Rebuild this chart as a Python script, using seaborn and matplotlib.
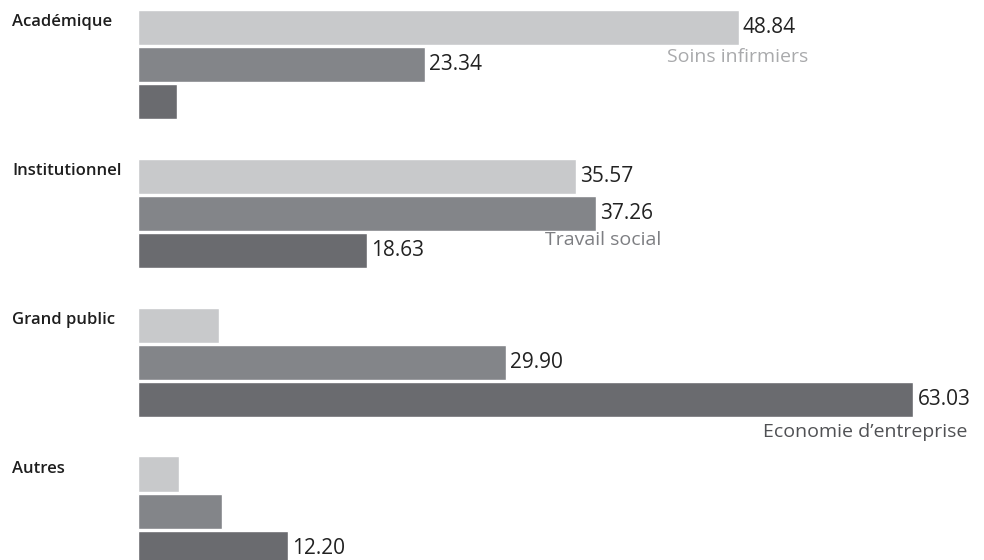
import pandas as pd
import numpy as np
import matplotlib.pyplot as plt
import seaborn as sns

# données
categories = ['Académique', 'Institutionnel', 'Grand public', 'Autres']
series = ['Soins infirmiers', 'Travail social', 'Economie d\u2019entreprise']
soins = [48.84, 35.57, 6.6, 3.3]
travail = [23.34, 37.26, 29.90, 6.8]
economie = [3.2, 18.63, 63.03, 12.20]
# étiquettes affichées (vide = pas d'étiquette)
labels = {
    'Soins infirmiers': ['48.84', '35.57', '', ''],
    'Travail social': ['23.34', '37.26', '29.90', ''],
    'Economie d\u2019entreprise': ['', '18.63', '63.03', '12.20'],
}

df = pd.DataFrame({
    'Catégorie': categories * 3,
    'Filière': [series[0]] * 4 + [series[1]] * 4 + [series[2]] * 4,
    'Valeur': soins + travail + economie,
})

colors = ['#c8c9cb', '#838589', '#6a6b6f']
text_colors = ['#a9aaac', '#7d7e82', '#505154']

sns.set_theme(style='white')
plt.rcParams['font.family'] = ['Open Sans', 'DejaVu Sans']

fig = plt.figure(figsize=(9.84, 5.6), dpi=100)
ax = fig.add_axes([138 / 984, 0, 1 - 138 / 984, 1])

sns.barplot(data=df, y='Catégorie', x='Valeur', hue='Filière', order=categories,
            hue_order=series, palette=colors, width=0.75, gap=0.05,
            orient='h', legend=False, ax=ax, saturation=1)

for cont, s in zip(ax.containers, series):
    ax.bar_label(cont, labels=labels[s], padding=3, fontsize=15, color='#222222')

ax.set_xlim(0, 846 / 12.3)
ax.set_ylim(3.326, -0.433)
ax.set_xlabel('')
ax.set_ylabel('')
ax.set_xticks([])
ax.set_yticks([])
sns.despine(ax=ax, left=True, bottom=True)

# noms des catégories à gauche
for i, c in enumerate(categories):
    fig.text(12 / 984, 1 - (22 + 149 * i) / 560, c, fontsize=12, color='#1e1e1e',
             fontweight='semibold', va='center', ha='left')

# noms des filières dans le graphique
ax.text(54.5, -0.05, series[0], fontsize=14, color=text_colors[0], ha='right', va='center')
ax.text(37.8, 1.178, series[1], fontsize=14, color=text_colors[1], ha='center', va='center')
ax.text(67.4, 2.466, series[2], fontsize=14, color=text_colors[2], ha='right', va='center')

fig.savefig('out.png', dpi=100)
